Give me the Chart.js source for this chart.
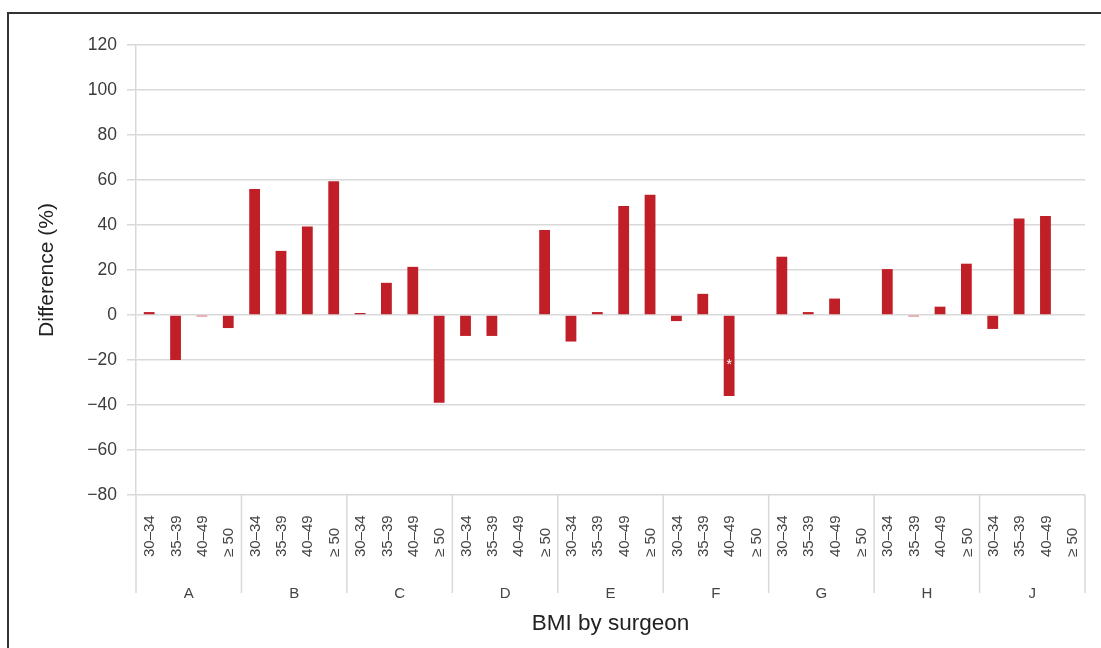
<!DOCTYPE html>
<html>
<head>
<meta charset="utf-8">
<script src="https://cdn.jsdelivr.net/npm/chart.js@4/dist/chart.umd.min.js"></script>
<style>
    html, body { margin: 0; padding: 0; background: #fff; overflow: hidden; }
    #wrap { position: relative; width: 1101px; height: 648px; }
    #frame { position: absolute; left: 7px; top: 12px; width: 1110px; height: 660px; border: 2px solid #333; box-sizing: border-box; }
    canvas { position: absolute; left: 0; top: 0; }
</style>
</head>
<body>
<div id="wrap">
    <div id="frame"></div>
    <canvas id="chart" width="1101" height="648"></canvas>
</div>
<script>
// categories
const surgeons = ['A', 'B', 'C', 'D', 'E', 'F', 'G', 'H', 'J'];
const bmiBands = ['30\u201334', '35\u201339', '40\u201349', '\u2265 50'];

// difference (%) per surgeon, one value per BMI band (null = no bar)
const surgeonA = [1.3, -20, -0.6, -5.8];
const surgeonB = [56, 28.5, 39.3, 59.5];
const surgeonC = [0.9, 14.3, 21.4, -39];
const surgeonD = [-9.3, -9.3, null, 37.8];
const surgeonE = [-11.8, 1.3, 48.5, 53.4];
const surgeonF = [-2.7, 9.4, -36, null];
const surgeonG = [25.9, 1.3, 7.3, null];
const surgeonH = [20.4, -0.6, 3.7, 22.8];
const surgeonJ = [-6.2, 42.9, 44, null];

// bars marked with an asterisk (surgeon, band)
const flagged = [['F', '40\u201349']];

const yTicks = [-80, -60, -40, -20, 0, 20, 40, 60, 80, 100, 120];

const groups = [surgeonA, surgeonB, surgeonC, surgeonD, surgeonE, surgeonF, surgeonG, surgeonH, surgeonJ];
const labels = [];
const values = [];
surgeons.forEach((s, i) => {
    bmiBands.forEach((b, j) => {
        labels.push(b);
        values.push(groups[i][j]);
    });
});

const gridColor = '#d9d9d9';
const textColor = '#3c3c3c';
const fontFamily = '"Liberation Sans", Arial, Helvetica, sans-serif';

const groupAxisPlugin = {
    id: 'groupAxis',
    afterDraw(chart) {
        const ctx = chart.ctx;
        const x = chart.scales.x;
        const area = chart.chartArea;
        ctx.save();

        // band labels, rotated and aligned at the bottom
        ctx.fillStyle = '#444';
        ctx.font = '15px ' + fontFamily;
        ctx.textAlign = 'left';
        ctx.textBaseline = 'middle';
        labels.forEach((lab, i) => {
            const px = x.getPixelForValue(i);
            ctx.save();
            ctx.translate(px + 1, area.bottom + 62);
            ctx.rotate(-Math.PI / 2);
            ctx.fillText(lab, 0, 0);
            ctx.restore();
        });

        // group separators
        ctx.strokeStyle = gridColor;
        ctx.lineWidth = 1.5;
        for (let g = 0; g <= surgeons.length; g++) {
            let px;
            if (g === 0) px = x.left;
            else if (g === surgeons.length) px = x.right;
            else px = (x.getPixelForValue(g * 4 - 1) + x.getPixelForValue(g * 4)) / 2;
            ctx.beginPath();
            ctx.moveTo(px, area.bottom);
            ctx.lineTo(px, area.bottom + 98);
            ctx.stroke();
        }

        // asterisks
        const meta = chart.getDatasetMeta(0);
        const y = chart.scales.y;
        ctx.fillStyle = '#fff';
        ctx.font = '14px ' + fontFamily;
        ctx.textAlign = 'center';
        ctx.textBaseline = 'middle';
        flagged.forEach(([s, b]) => {
            const idx = surgeons.indexOf(s) * 4 + bmiBands.indexOf(b);
            const bar = meta.data[idx];
            ctx.fillText('*', bar.x, y.getPixelForValue(values[idx] * 0.6) + 2);
        });
        ctx.restore();
    }
};

new Chart(document.getElementById('chart'), {
    type: 'bar',
    data: {
        labels: labels,
        datasets: [{
            data: values,
            backgroundColor: '#c01f28',
            barPercentage: 0.41,
            categoryPercentage: 1
        }]
    },
    options: {
        responsive: false,
        animation: false,
        layout: { padding: { left: 0, right: 16, top: 45, bottom: 0 } },
        plugins: { legend: { display: false }, tooltip: { enabled: false } },
        scales: {
            y: {
                min: -80,
                max: 120,
                afterBuildTicks: scale => { scale.ticks = yTicks.map(v => ({ value: v })); },
                afterFit: scale => { scale.width = 136; },
                grid: { color: gridColor, lineWidth: 1.5, tickLength: 9 },
                border: { color: gridColor, width: 1.5 },
                ticks: {
                    color: textColor,
                    padding: 10,
                    font: { family: fontFamily, size: 17.5 },
                    callback: v => String(v).replace('-', '\u2212')
                },
                title: {
                    display: true,
                    text: 'Difference (%)',
                    color: '#222',
                    padding: { top: 35, bottom: 0 },
                    font: { family: fontFamily, size: 21 }
                }
            },
            x: {
                afterFit: scale => { scale.height = 75; },
                grid: { display: false },
                border: { display: false },
                ticks: { display: false }
            },
            x2: {
                type: 'category',
                labels: surgeons,
                position: 'bottom',
                offset: true,
                afterFit: scale => { scale.height = 78; },
                grid: { display: false },
                border: { display: false },
                ticks: {
                    color: '#444',
                    padding: 7,
                    font: { family: fontFamily, size: 15 }
                },
                title: {
                    display: true,
                    text: 'BMI by surgeon',
                    color: '#222',
                    padding: { top: 0, bottom: 11 },
                    font: { family: fontFamily, size: 22.5 }
                }
            }
        }
    },
    plugins: [groupAxisPlugin]
});
</script>
</body>
</html>
